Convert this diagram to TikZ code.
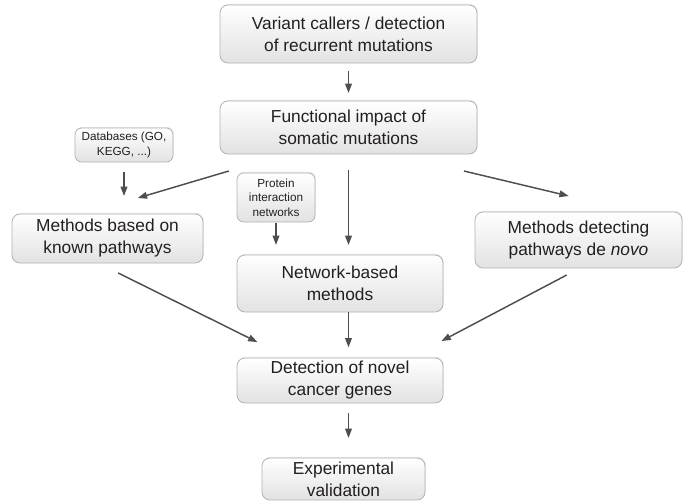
\documentclass[tikz,border=0pt]{standalone}
\usepackage{fontspec}
\setmainfont{Liberation Sans}
\usetikzlibrary{arrows.meta}
\usetikzlibrary{shadows}

\definecolor{boxline}{RGB}{178,178,178}
\definecolor{boxfill}{RGB}{226,226,226}
\definecolor{arrowgray}{RGB}{78,78,78}
\definecolor{textgray}{RGB}{35,31,32}

\tikzset{
  box/.style={draw=boxline, line width=0.6pt, rounded corners=6pt,
    top color=white, bottom color=boxfill, align=center, text=textgray,
    inner sep=0pt, outer sep=0pt, font=\fontsize{13}{16.5}\selectfont,
    drop shadow={opacity=0.15, shadow xshift=0.6pt, shadow yshift=0.9pt}},
  smallbox/.style={box, rounded corners=5pt, font=\fontsize{8.8}{10.9}\selectfont},
  boxsize/.style 2 args={minimum width=#1*0.75pt, minimum height=#2*0.75pt},
  arr/.style={-{Triangle[length=7pt,width=5pt]}, draw=arrowgray, line width=1.1pt}
}

\begin{document}
\begin{tikzpicture}[x=0.75pt,y=0.75pt,yscale=-1,xscale=1]
\useasboundingbox (0,0) rectangle (691,501);

%Rounded Rect [id:var]
\node [box, boxsize={257}{58}] (var) at (348.5,34) {Variant callers / detection\\of recurrent mutations};
%Rounded Rect [id:func]
\node [box, boxsize={257}{53}] (func) at (348.5,127.5) {Functional impact of\\somatic mutations};
%Rounded Rect [id:db]
\node [smallbox, boxsize={98}{34}] (db) at (124,145) {Databases (GO,\\KEGG, ...)};
%Rounded Rect [id:known]
\node [box, boxsize={191}{49}] (known) at (107.5,238.5) {Methods based on\\known pathways};
%Rounded Rect [id:prot]
\node [smallbox, boxsize={78}{49}] (prot) at (276,197.5) {Protein\\interaction\\networks};
%Rounded Rect [id:denovo]
\node [box, boxsize={207}{56}] (denovo) at (578.5,240) {Methods detecting\\pathways de \textit{novo}};
%Rounded Rect [id:net]
\node [box, boxsize={206}{57}] (net) at (340,283.5) {Network-based\\methods};
%Rounded Rect [id:det]
\node [box, boxsize={206}{45}] (det) at (340,380.5) {Detection of novel\\cancer genes};
%Rounded Rect [id:exp]
\node [box, boxsize={163}{42}] (exp) at (343.5,479) {Experimental\\validation};

%Straight Lines
\draw [arr, shorten <=6pt, shorten >=6pt] (var.south) -- (func.north);
\draw [arr, shorten <=7.5pt, shorten >=13.5pt] (db.south) -- (db.south |- known.north);
\draw [arr, shorten <=44.8pt, shorten >=42.2pt] (func.203) -- (known.134);
\draw [arr, shorten <=55pt, shorten >=51.8pt] (func.329) -- (denovo.26);
\draw [arr, shorten <=1pt, shorten >=7.5pt] (prot.south) -- (prot.south |- net.north);
\draw [arr, shorten <=12pt, shorten >=7.5pt] (func.south) -- (func.south |- net.north);
\draw [arr, shorten <=16.8pt, shorten >=26.8pt] (known.249) -- (det.156);
\draw [arr, shorten <=11.3pt, shorten >=27.3pt] (denovo.273) -- (det.18);
\draw [arr, shorten >=8pt] (func.south |- net.south) -- (func.south |- det.north);
\draw [arr, shorten <=7.5pt, shorten >=15pt] (func.south |- det.south) -- (func.south |- exp.north);

\end{tikzpicture}
\end{document}
